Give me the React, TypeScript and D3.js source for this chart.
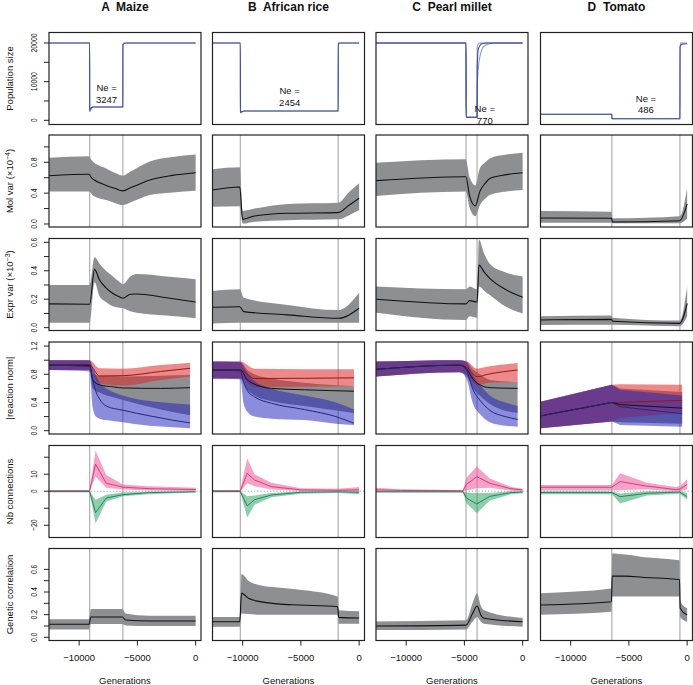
import React from 'react';
import * as d3 from 'd3';

type Pt = [number, number, number, number]; // generation, mean, low, high
type PP = [number, number]; // generation, population

const species = ['A  Maize', 'B  African rice', 'C  Pearl millet', 'D  Tomato'];
const xTicks = [-10000, -5000, 0];
const events: number[][] = [[-9100, -6250], [-10200, -1800], [-4860, -3910], [-6465, -620]];

// Population size trajectories (bundle of replicate lines per species)
const popA: PP[][] = [
  [[-12590, 20000], [-9100, 20000], [-9095, 2600], [-8950, 3300], [-8800, 3440], [-6250, 3440], [-6245, 19600], [-6000, 20000], [0, 20000]],
  [[-12590, 20000], [-9100, 20000], [-9095, 2200], [-8900, 3350], [-8700, 3440], [-6250, 3440], [-6245, 20000], [0, 20000]],
];
const popB: PP[][] = [
  [[-12590, 20000], [-10200, 20000], [-10195, 2100], [-10000, 2350], [-9800, 2406], [-1800, 2406], [-1795, 20000], [0, 20000]],
  [[-12590, 20000], [-10200, 20000], [-10195, 1900], [-9900, 2406], [-1800, 2406], [-1795, 19800], [-1600, 20000], [0, 20000]],
];
const popC: PP[][] = [
  [[-12590, 20000], [-4860, 20000], [-4855, 776], [-3910, 776], [-3900, 14000], [-3800, 18500], [-3500, 19800], [-3000, 20000], [0, 20000]],
  [[-12590, 20000], [-4860, 20000], [-4855, 776], [-3910, 776], [-3900, 9000], [-3700, 16000], [-3300, 19200], [-2500, 20000], [0, 20000]],
  [[-12590, 20000], [-4860, 20000], [-4855, 776], [-3910, 776], [-3905, 19000], [-3700, 20000], [0, 20000]],
];
const popD: PP[][] = [
  [[-12590, 1552], [-6465, 1552], [-6460, 414], [-620, 414], [-610, 19000], [-450, 19700], [0, 19800]],
  [[-12590, 1552], [-6465, 1552], [-6460, 414], [-620, 414], [-610, 20000], [0, 20000]],
];
const popSize = [popA, popB, popC, popD];

const neText = ['3247', '2454', '770', '486'];
const nePosGen = [-7646, -5965, -3250, -3534];
const nePosPop = [7580, 6804, 2018, 4786];

// Molecular variance (x1e-4)
const molVarA: Pt[] = [[-12590, 0.626, 0.42, 0.86], [-9150, 0.645, 0.42, 0.88], [-8950, 0.60, 0.39, 0.83], [-8827, 0.584, 0.37, 0.81], [-7675, 0.50, 0.31, 0.72], [-6900, 0.46, 0.27, 0.66], [-6250, 0.43, 0.246, 0.626], [-5600, 0.47, 0.28, 0.68], [-5100, 0.50, 0.31, 0.72], [-3940, 0.57, 0.376, 0.81], [-2000, 0.63, 0.41, 0.87], [0, 0.665, 0.43, 0.9]];
const molVarB: Pt[] = [[-12590, 0.44, 0.224, 0.71], [-10250, 0.48, 0.23, 0.735], [-10000, 0.06, 0.005, 0.17], [-8980, 0.104, 0.03, 0.2], [-6110, 0.139, 0.05, 0.26], [-1800, 0.147, 0.06, 0.276], [-900, 0.24, 0.11, 0.41], [0, 0.333, 0.18, 0.528]];
const molVarC: Pt[] = [[-12590, 0.562, 0.363, 0.795], [-4880, 0.613, 0.42, 0.84], [-4540, 0.354, 0.2, 0.6], [-4060, 0.233, 0.10, 0.50], [-3680, 0.42, 0.24, 0.72], [-3200, 0.53, 0.33, 0.80], [-2820, 0.59, 0.376, 0.85], [-1400, 0.64, 0.42, 0.9], [0, 0.665, 0.44, 0.925]];
const molVarD: Pt[] = [[-12590, 0.078, 0.017, 0.17], [-6500, 0.074, 0.015, 0.16], [-6400, 0.026, 0.009, 0.074], [-640, 0.043, 0.01, 0.10], [0, 0.26, 0.07, 0.46]];
const molVar = [molVarA, molVarB, molVarC, molVarD];

// Expression variance (x1e-3)
const exprVarA: Pt[] = [[-12590, 0.167, 0.035, 0.30], [-9100, 0.165, 0.035, 0.30], [-8680, 0.41, 0.32, 0.495], [-8250, 0.335, 0.22, 0.45], [-7700, 0.28, 0.18, 0.40], [-7100, 0.24, 0.15, 0.36], [-6500, 0.215, 0.14, 0.32], [-6250, 0.207, 0.136, 0.305], [-5600, 0.235, 0.115, 0.36], [-5086, 0.237, 0.105, 0.377], [-2500, 0.21, 0.085, 0.36], [0, 0.18, 0.066, 0.34]];
const exprVarB: Pt[] = [[-12590, 0.143, 0.03, 0.258], [-10250, 0.147, 0.035, 0.27], [-9900, 0.113, 0.035, 0.21], [-6110, 0.09, 0.035, 0.16], [-1800, 0.066, 0.035, 0.124], [0, 0.136, 0.035, 0.246]];
const exprVarC: Pt[] = [[-12590, 0.2, 0.105, 0.29], [-4880, 0.167, 0.054, 0.27], [-4540, 0.19, 0.08, 0.29], [-3910, 0.18, 0.07, 0.27], [-3750, 0.44, 0.29, 0.62], [-3300, 0.39, 0.26, 0.52], [-2820, 0.347, 0.23, 0.45], [-1500, 0.27, 0.15, 0.39], [0, 0.214, 0.10, 0.36]];
const exprVarD: Pt[] = [[-12590, 0.054, 0.019, 0.08], [-6500, 0.058, 0.02, 0.085], [-6400, 0.045, 0.02, 0.07], [-640, 0.03, 0.01, 0.05], [0, 0.17, 0.08, 0.29]];
const exprVar = [exprVarA, exprVarB, exprVarC, exprVarD];

// |reaction norm| : red, black (gray band), blue series
const rnRed: Pt[][] = [
  [[-12590, 0.93, 0.86, 1.0], [-9100, 0.93, 0.86, 1.0], [-8250, 0.776, 0.67, 0.885], [-6250, 0.78, 0.64, 0.88], [-3000, 0.84, 0.72, 0.93], [-480, 0.885, 0.77, 0.965]],
  [[-12590, 0.86, 0.74, 0.98], [-10200, 0.86, 0.74, 0.98], [-8980, 0.74, 0.62, 0.88], [-440, 0.75, 0.63, 0.87]],
  [[-12590, 0.87, 0.77, 0.98], [-5400, 0.93, 0.83, 1.0], [-4830, 0.9, 0.8, 0.99], [-3900, 0.766, 0.64, 0.88], [-3000, 0.80, 0.68, 0.91], [-430, 0.86, 0.69, 0.96]],
  [[-12590, 0.21, 0.036, 0.41], [-6465, 0.40, 0.13, 0.65], [-5750, 0.40, 0.18, 0.66], [-430, 0.43, 0.25, 0.65]],
];
const rnBlack: Pt[][] = [
  [[-12590, 0.93, 0.86, 1.0], [-9100, 0.93, 0.86, 1.0], [-8827, 0.72, 0.6, 0.82], [-8250, 0.65, 0.54, 0.78], [-7000, 0.62, 0.47, 0.775], [-6250, 0.606, 0.435, 0.77], [-3000, 0.6, 0.3, 0.78], [-480, 0.61, 0.22, 0.79]],
  [[-12590, 0.86, 0.74, 0.98], [-10200, 0.86, 0.74, 0.98], [-9600, 0.72, 0.58, 0.86], [-8980, 0.66, 0.5, 0.8], [-7540, 0.6, 0.42, 0.74], [-4700, 0.58, 0.35, 0.68], [-440, 0.56, 0.25, 0.63]],
  [[-12590, 0.87, 0.77, 0.98], [-5400, 0.93, 0.83, 1.0], [-4830, 0.88, 0.78, 0.98], [-4255, 0.73, 0.6, 0.87], [-3680, 0.65, 0.5, 0.8], [-2800, 0.61, 0.38, 0.72], [-430, 0.6, 0.25, 0.69]],
  [[-12590, 0.21, 0.036, 0.41], [-6465, 0.40, 0.13, 0.65], [-5750, 0.37, 0.12, 0.6], [-430, 0.32, 0.1, 0.55]],
];
const rnBlue: Pt[][] = [
  [[-12590, 0.93, 0.86, 1.0], [-9100, 0.91, 0.84, 1.0], [-8827, 0.72, 0.32, 0.9], [-8550, 0.55, 0.2, 0.78], [-8250, 0.45, 0.17, 0.68], [-7675, 0.35, 0.15, 0.6], [-6250, 0.29, 0.12, 0.5], [-3940, 0.21, 0.07, 0.42], [-2000, 0.15, 0.05, 0.39], [-480, 0.11, 0.035, 0.37]],
  [[-12590, 0.86, 0.74, 0.98], [-10200, 0.85, 0.73, 0.97], [-9900, 0.68, 0.38, 0.9], [-9600, 0.57, 0.27, 0.82], [-8980, 0.48, 0.2, 0.7], [-7540, 0.39, 0.17, 0.6], [-4700, 0.30, 0.15, 0.5], [-2000, 0.2, 0.1, 0.4], [-440, 0.105, 0.08, 0.3]],
  [[-12590, 0.87, 0.77, 0.98], [-5400, 0.93, 0.83, 1.0], [-4830, 0.86, 0.74, 0.97], [-4255, 0.58, 0.38, 0.78], [-3680, 0.435, 0.24, 0.65], [-2820, 0.29, 0.12, 0.5], [-1500, 0.2, 0.07, 0.4], [-430, 0.16, 0.057, 0.35]],
  [[-12590, 0.21, 0.036, 0.41], [-6465, 0.40, 0.13, 0.65], [-5750, 0.34, 0.08, 0.58], [-430, 0.24, 0.057, 0.5]],
];
const rnSmooth = [true, true, true, false];

// Nb connections: gained (pink) and lost (green)
const nbPink: Pt[][] = [
  [[-12590, 0.3, 0, 0.8], [-9100, 0.3, 0, 0.8], [-8594, 16, 8.6, 24], [-7675, 4.7, 2, 9.6], [-6250, 2.4, 1, 4], [-4000, 1.5, 0.4, 3], [0, 1, 0.2, 2]],
  [[-12590, 0.3, 0, 0.8], [-10200, 0.3, 0, 0.8], [-9610, 10.6, 4.7, 19.4], [-8980, 6.6, 3, 10], [-7540, 2.7, 1, 5], [-5000, 0.8, 0.2, 1.8], [-1800, 0.6, 0.1, 1.5], [0, 0.8, 0, 2.5]],
  [[-12590, 0.8, 0, 2], [-10500, 0.5, 0, 1.2], [-5120, 0.3, 0, 0.8], [-4830, 4, 0.5, 8], [-3930, 8.6, 1.8, 14.5], [-2820, 4.7, 2, 7.5], [-1000, 1.5, 0.3, 2.5], [0, 0.8, 0, 1.5]],
  [[-12590, 2.35, 0.4, 3.7], [-6465, 2.35, 0.4, 3.7], [-5750, 5.7, 0.8, 10.6], [-3450, 3.0, 1, 5], [-1000, 1.0, 0, 2.5], [-640, 1.2, 0, 3], [0, 4, 1.2, 7]],
];
const nbGreen: Pt[][] = [
  [[-12590, -0.2, -0.6, 0], [-9100, -0.2, -0.6, 0], [-8594, -12.6, -19, -5], [-7675, -4, -6, -2], [-6250, -2, -3, -0.8], [-4000, -0.8, -1.8, -0.2], [0, -0.3, -0.8, 0]],
  [[-12590, -0.2, -0.6, 0], [-10200, -0.2, -0.6, 0], [-9610, -8.6, -15.5, -2.9], [-8980, -5, -8, -2.5], [-7540, -2.2, -3.5, -1], [-5000, -0.6, -1.5, 0], [-1800, -0.3, -1, 0], [0, -0.6, -1.8, 0]],
  [[-12590, -0.3, -0.8, 0], [-5120, -0.3, -0.8, 0], [-4830, -4, -7, -0.8], [-3930, -7.5, -12.9, -1.1], [-2820, -3, -5.5, -1], [-1000, -0.8, -1.8, 0], [0, -0.5, -1.2, 0]],
  [[-12590, -0.8, -1.8, 0], [-6465, -0.8, -1.8, 0], [-5750, -3.2, -7.2, -1.3], [-3450, -1.2, -2.5, 0], [-640, -0.5, -1.5, 0], [0, -3.2, -5, -1]],
];

// Genetic correlation
const genCorrA: Pt[] = [[-12590, 0.115, 0.07, 0.16], [-9150, 0.115, 0.07, 0.16], [-9000, 0.18, 0.117, 0.25], [-6300, 0.18, 0.117, 0.25], [-6000, 0.153, 0.105, 0.21], [-3940, 0.144, 0.1, 0.19], [0, 0.144, 0.1, 0.19]];
const genCorrB: Pt[] = [[-12590, 0.138, 0.094, 0.18], [-10250, 0.138, 0.094, 0.18], [-10100, 0.39, 0.21, 0.56], [-9500, 0.345, 0.205, 0.5], [-8500, 0.315, 0.2, 0.46], [-7000, 0.295, 0.2, 0.44], [-5100, 0.285, 0.2, 0.42], [-1850, 0.27, 0.2, 0.36], [-1750, 0.176, 0.12, 0.24], [0, 0.17, 0.12, 0.23]];
const genCorrC: Pt[] = [[-12590, 0.10, 0.064, 0.14], [-4860, 0.108, 0.07, 0.15], [-4300, 0.21, 0.14, 0.3], [-3910, 0.276, 0.18, 0.39], [-3600, 0.2, 0.14, 0.28], [-3330, 0.168, 0.12, 0.24], [0, 0.138, 0.094, 0.17]];
const genCorrD: Pt[] = [[-12590, 0.285, 0.2, 0.39], [-6500, 0.314, 0.225, 0.43], [-6430, 0.54, 0.36, 0.74], [-5300, 0.54, 0.36, 0.73], [-3870, 0.53, 0.36, 0.71], [-650, 0.51, 0.36, 0.68], [-600, 0.256, 0.18, 0.32], [0, 0.197, 0.138, 0.256]];
const genCorr = [genCorrA, genCorrB, genCorrC, genCorrD];

// Y axis definitions per row
const rowTicks: number[][] = [
  [0, 5000, 10000, 15000, 20000],
  [0, 0.2, 0.4, 0.6, 0.8, 1.0],
  [0, 0.1, 0.2, 0.3, 0.4, 0.5, 0.6],
  [0, 0.2, 0.4, 0.6, 0.8, 1.0, 1.2],
  [-20, -10, 0, 10, 20],
  [0, 0.1, 0.2, 0.3, 0.4, 0.5, 0.6],
];
const rowTickLabels: string[][] = [
  ['0', '', '10000', '', '20000'],
  ['0.0', '', '0.4', '', '0.8', ''],
  ['0.0', '', '0.2', '', '0.4', '', '0.6'],
  ['0.0', '', '0.4', '', '0.8', '', '1.2'],
  ['\u221220', '', '0', '10', ''],
  ['0.0', '', '0.2', '', '0.4', '', '0.6'],
];
const rowDomains: [number, number][] = [
  [-1087, 22714],
  [-0.039, 1.154],
  [-0.020, 0.627],
  [-0.047, 1.258],
  [-27.2, 26.9],
  [-0.028, 0.784],
];

const FONT = "'Liberation Sans', Arial, Helvetica, sans-serif";
const COL_X = [49, 212.5, 376, 540.5];
const ROW_Y = [32.5, 135, 238.5, 342, 445.5, 548.5];
const PW = 152;
const PH = 92;

const RED_FILL = 'rgba(222,40,40,0.55)';
const BLUE_FILL = 'rgba(34,34,188,0.52)';
const GRAY_FILL = '#8d8f92';

function textW(s: string, size: number) {
  let w = 0;
  for (const c of s) {
    if (c === '.') w += 0.278;
    else if (c === '\u2212') w += 0.584;
    else w += 0.556;
  }
  return w * size;
}

export default function App() {
  const x = d3.scaleLinear().domain([-12590, 460]).range([0, PW]);
  const ys = rowDomains.map((d) => d3.scaleLinear().domain(d).range([PH, 0]));

  const bandArea = (y: d3.ScaleLinear<number, number>, smooth = true) => {
    const a = d3.area<Pt>().x((d) => x(d[0])).y0((d) => y(d[2])).y1((d) => y(d[3]));
    return smooth ? a.curve(d3.curveMonotoneX) : a;
  };
  const meanLine = (y: d3.ScaleLinear<number, number>, smooth = true) => {
    const l = d3.line<Pt>().x((d) => x(d[0])).y((d) => y(d[1]));
    return smooth ? l.curve(d3.curveMonotoneX) : l;
  };
  const popLine = d3.line<PP>().x((d) => x(d[0])).y((d) => ys[0](d[1])).curve(d3.curveMonotoneX);

  const panels: React.ReactNode[] = [];

  for (let c = 0; c < 4; c++) {
    for (let r = 0; r < 6; r++) {
      const y = ys[r];
      const id = `clip-${c}-${r}`;
      const content: React.ReactNode[] = [];
      if (r > 0) {
        events[c].forEach((g, i) => (
          content.push(<line key={`ev${i}`} x1={x(g)} x2={x(g)} y1={0} y2={PH} stroke="#b4b4b4" strokeWidth={1.3} />)
        ));
      }
      if (r === 0) {
        popSize[c].forEach((ln, i) => (
          content.push(<path key={`p${i}`} d={popLine(ln) || ''} fill="none" stroke="#34479a" strokeOpacity={i === 0 ? 0.95 : 0.55} strokeWidth={1.1} />)
        ));
      } else if (r === 1 || r === 2 || r === 5) {
        const data = r === 1 ? molVar[c] : r === 2 ? exprVar[c] : genCorr[c];
        content.push(<path key="band" d={bandArea(y)(data) || ''} fill={GRAY_FILL} />);
        content.push(<path key="mean" d={meanLine(y)(data) || ''} fill="none" stroke="#111" strokeWidth={1.1} />);
      } else if (r === 3) {
        const sm = rnSmooth[c];
        content.push(<path key="bk" d={bandArea(y, sm)(rnBlack[c]) || ''} fill={GRAY_FILL} />);
        content.push(<path key="br" d={bandArea(y, sm)(rnRed[c]) || ''} fill={RED_FILL} />);
        content.push(<path key="bb" d={bandArea(y, sm)(rnBlue[c]) || ''} fill={BLUE_FILL} />);
        content.push(<path key="lr" d={meanLine(y, sm)(rnRed[c]) || ''} fill="none" stroke="#8e1a1a" strokeWidth={1} />);
        content.push(<path key="lk" d={meanLine(y, sm)(rnBlack[c]) || ''} fill="none" stroke="#111" strokeWidth={1} />);
        content.push(<path key="lb" d={meanLine(y, sm)(rnBlue[c]) || ''} fill="none" stroke="#262680" strokeWidth={1} />);
      } else if (r === 4) {
        content.push(<line key="zero" x1={0} x2={PW} y1={y(0)} y2={y(0)} stroke="#9a9a9a" strokeWidth={0.9} strokeDasharray="1.2,2" />);
        content.push(<path key="bp" d={bandArea(y, false)(nbPink[c]) || ''} fill="rgba(236,100,160,0.6)" />);
        content.push(<path key="bg" d={bandArea(y, false)(nbGreen[c]) || ''} fill="rgba(50,165,105,0.55)" />);
        content.push(<path key="lp" d={meanLine(y, false)(nbPink[c]) || ''} fill="none" stroke="#dc3a84" strokeWidth={1} />);
        content.push(<path key="lg" d={meanLine(y, false)(nbGreen[c]) || ''} fill="none" stroke="#24865a" strokeWidth={1} />);
      }

      const neNodes: React.ReactNode[] = [];
      if (r === 0) {
        const nx = x(nePosGen[c]);
        const ny = ys[0](nePosPop[c]);
        neNodes.push(
          <text key="ne1" x={nx} y={ny} textAnchor="middle" fontSize={9.5} fill="#111">Ne =</text>,
          <text key="ne2" x={nx} y={ny + 11.6} textAnchor="middle" fontSize={9.5} fill="#111">{neText[c]}</text>
        );
      }

      panels.push(
        <g key={id} transform={`translate(${COL_X[c]},${ROW_Y[r]})`}>
          <defs>
            <clipPath id={id}>
              <rect x={0} y={0} width={PW} height={PH} />
            </clipPath>
          </defs>
          <g clipPath={`url(#${id})`}>{content}</g>
          {neNodes}
          <rect x={0} y={0} width={PW} height={PH} fill="none" stroke="#222" strokeWidth={1.2} />
        </g>
      );
    }
  }

  // Y axes (left column only)
  const yAxes: React.ReactNode[] = [];
  const yTitles = ['Population size', 'Mol var', 'Expr var', '|reaction norm|', 'Nb connections', 'Genetic correlation'];
  for (let r = 0; r < 6; r++) {
    const y = ys[r];
    const top = ROW_Y[r];
    const x0 = COL_X[0];
    rowTicks[r].forEach((t, i) => {
      const py = top + y(t);
      yAxes.push(<line key={`yt${r}-${i}`} x1={x0 - 5} x2={x0} y1={py} y2={py} stroke="#222" strokeWidth={1} />);
      const lab = rowTickLabels[r][i];
      if (lab) {
        yAxes.push(
          <text key={`yl${r}-${i}`} transform={`translate(36.5,${py}) rotate(-90)`} textAnchor="middle" fontSize={9.5}
            textLength={textW(lab, 9.5) * 0.72} lengthAdjust="spacingAndGlyphs" fill="#111">{lab}</text>
        );
      }
    });
    const cy = top + PH / 2;
    let title: React.ReactNode = yTitles[r];
    if (r === 1 || r === 2) {
      title = (
        <>
          {yTitles[r]}{'  (\u00d710'}
          <tspan dy={-3.5} fontSize={7}>{r === 1 ? '\u22124' : '\u22123'}</tspan>
          <tspan dy={3.5}>)</tspan>
        </>
      );
    }
    yAxes.push(
      <text key={`ytitle${r}`} transform={`translate(13,${cy}) rotate(-90)`} textAnchor="middle" fontSize={9.5} fill="#111">{title}</text>
    );
  }

  // X axes (bottom row)
  const xAxes: React.ReactNode[] = [];
  const bottom = ROW_Y[5] + PH;
  for (let c = 0; c < 4; c++) {
    xTicks.forEach((t, i) => {
      const px = COL_X[c] + x(t);
      xAxes.push(<line key={`xt${c}-${i}`} x1={px} x2={px} y1={bottom} y2={bottom + 5} stroke="#222" strokeWidth={1} />);
      xAxes.push(
        <text key={`xl${c}-${i}`} x={px} y={660.5} textAnchor="middle" fontSize={9.5} fill="#111">
          {t < 0 ? '\u2212' + Math.abs(t) : String(t)}
        </text>
      );
    });
    xAxes.push(
      <text key={`xtitle${c}`} x={COL_X[c] + PW / 2} y={684} textAnchor="middle" fontSize={9.5} fill="#111">Generations</text>
    );
    xAxes.push(
      <text key={`ctitle${c}`} x={COL_X[c] + PW / 2} y={10.5} textAnchor="middle" fontSize={12} fontWeight="bold" fill="#111"
        style={{ whiteSpace: 'pre' }} xmlSpace="preserve">{species[c]}</text>
    );
  }

  return (
    <svg width={693} height={685} style={{ position: 'absolute', left: 0, top: 0, background: '#fff' }} fontFamily={FONT}>
      <rect x={0} y={0} width={693} height={685} fill="#fff" />
      {panels}
      {yAxes}
      {xAxes}
    </svg>
  );
}
